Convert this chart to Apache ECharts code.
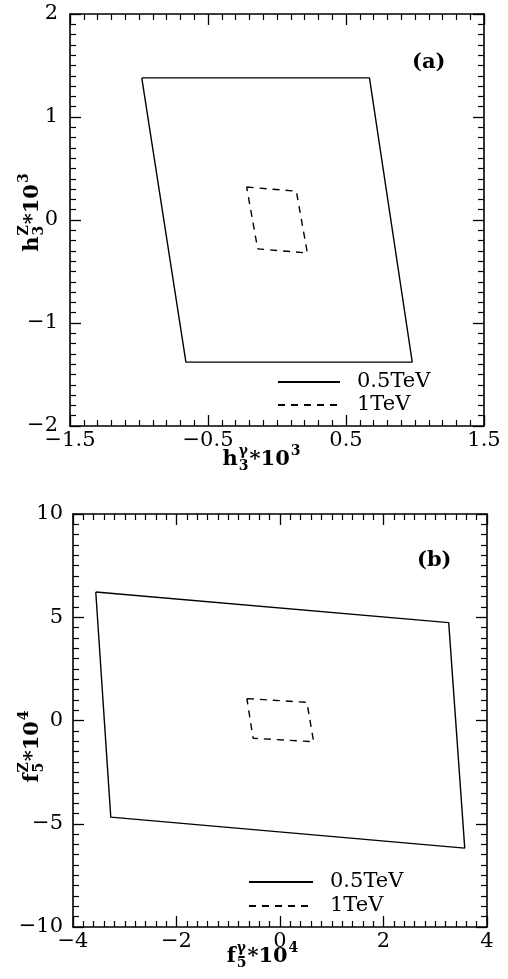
<!DOCTYPE html>
<html lang="en">
<head>
    <meta charset="UTF-8">
    <title>h3 / f5 bounds</title>
    <script src="https://cdn.jsdelivr.net/npm/echarts@6/dist/echarts.min.js"></script>
    <style>
        html, body, #chart {
            width: 100%;
            height: 100%;
            margin: 0;
            padding: 0;
            background: #fff;
        }
    </style>
</head>
<body>
    <div id="chart"></div>
    <script>
        // panel (a): h3 bounds (x = h3^gamma*10^3, y = h3^Z*10^3)
        var h3Solid = [[-0.98, 1.38], [0.67, 1.38], [0.98, -1.38], [-0.66, -1.38], [-0.98, 1.38]];
        var h3Dashed = [[-0.22, 0.32], [0.14, 0.28], [0.22, -0.32], [-0.14, -0.28], [-0.22, 0.32]];
        // panel (b): f5 bounds (x = f5^gamma*10^4, y = f5^Z*10^4)
        var f5Solid = [[-3.56, 6.22], [3.26, 4.74], [3.57, -6.18], [-3.27, -4.68], [-3.56, 6.22]];
        var f5Dashed = [[-0.64, 1.06], [0.52, 0.88], [0.65, -1.03], [-0.52, -0.86], [-0.64, 1.06]];
        var legendNames = ['0.5TeV', '1TeV'];
        var panelLabels = ['(a)', '(b)'];

        var FONT = '"DejaVu Serif", serif';
        var chart = echarts.init(document.getElementById('chart'));

        var mctx = document.createElement('canvas').getContext('2d');
        function textWidth(s, size, weight) {
            mctx.font = (weight || 'normal') + ' ' + size + 'px ' + FONT;
            return mctx.measureText(s).width;
        }

        function txt(s, x, y, size, weight) {
            return {
                type: 'text', x: x, y: y,
                style: {
                    text: s, fill: '#000',
                    font: (weight || 'normal') + ' ' + size + 'px ' + FONT,
                    align: 'left', verticalAlign: 'middle',
                    textAlign: 'left', textVerticalAlign: 'middle'
                }
            };
        }

        // label like h_3^gamma*10^3 : strings are normal size, [sup, sub] pairs are small
        function mathLabel(parts, cx, cy, rot) {
            var big = 21, small = 14, w8 = 'bold', x = 0, kids = [];
            parts.forEach(function(p) {
                if (typeof p === 'string') {
                    kids.push(txt(p, x, 0, big, w8));
                    x += textWidth(p, big, w8);
                } else {
                    var w = 0;
                    if (p[0]) {
                        kids.push(txt(p[0], x + 1, -9, small, w8));
                        w = Math.max(w, textWidth(p[0], small, w8));
                    }
                    if (p[1]) {
                        kids.push(txt(p[1], x + 1, 6, small, w8));
                        w = Math.max(w, textWidth(p[1], small, w8));
                    }
                    x += w + 2;
                }
            });
            kids.forEach(function(k) { k.x -= x / 2; });
            return { type: 'group', x: cx, y: cy, rotation: rot || 0, children: kids };
        }

        function fmt(v) {
            return String(v).replace('-', '\u2212');
        }

        var lineCol = '#000';

        function axis(dim, grid, min, max, interval, pos, labels, margin) {
            return {
                type: 'value',
                gridIndex: grid,
                position: pos,
                min: min,
                max: max,
                interval: interval,
                axisLine: { show: true, onZero: false, lineStyle: { color: lineCol, width: 1.6 } },
                axisTick: { show: true, inside: true, length: 11, lineStyle: { color: lineCol, width: 1.3 } },
                minorTick: { show: true, splitNumber: 10, length: 6, lineStyle: { color: lineCol, width: 1.2 } },
                splitLine: { show: false },
                minorSplitLine: { show: false },
                axisLabel: {
                    show: labels,
                    showMinLabel: true,
                    showMaxLabel: true,
                    margin: margin,
                    color: '#000',
                    fontFamily: FONT,
                    fontSize: 21,
                    formatter: fmt
                }
            };
        }

        function poly(name, data, grid, dashed) {
            return {
                name: name,
                type: 'line',
                xAxisIndex: grid * 2,
                yAxisIndex: grid * 2,
                data: data,
                symbol: 'none',
                animation: false,
                itemStyle: { color: '#000' },
                lineStyle: { color: '#000', width: 1.4, type: dashed ? [7, 6] : 'solid' }
            };
        }

        function legend(left, top, w, pad, gap) {
            return {
                data: legendNames,
                orient: 'vertical',
                left: left,
                top: top,
                itemWidth: w,
                itemHeight: 22,
                itemGap: gap,
                selectedMode: false,
                itemStyle: { opacity: 0 },
                textStyle: { color: '#000', fontFamily: FONT, fontSize: 21, lineHeight: 22, padding: [0, 0, 0, pad] }
            };
        }

        var option = {
            backgroundColor: '#fff',
            animation: false,
            grid: [
                { left: 70, top: 14, width: 414, height: 412 },
                { left: 73, top: 514, width: 414, height: 413 }
            ],
            xAxis: [
                axis('x', 0, -1.5, 1.5, 1, 'bottom', true, 4),
                axis('x', 0, -1.5, 1.5, 1, 'top', false, 4),
                axis('x', 1, -4, 4, 2, 'bottom', true, 4),
                axis('x', 1, -4, 4, 2, 'top', false, 4)
            ],
            yAxis: [
                axis('y', 0, -2, 2, 1, 'left', true, 12),
                axis('y', 0, -2, 2, 1, 'right', false, 12),
                axis('y', 1, -10, 10, 5, 'left', true, 10),
                axis('y', 1, -10, 10, 5, 'right', false, 10)
            ],
            legend: [
                legend(272, 366, 62, 12, 1),
                legend(243, 866, 64, 12, 2)
            ],
            series: [
                poly(legendNames[0], h3Solid, 0, false),
                poly(legendNames[1], h3Dashed, 0, true),
                poly(legendNames[0], f5Solid, 1, false),
                poly(legendNames[1], f5Dashed, 1, true)
            ],
            graphic: [
                txt(panelLabels[0], 412, 63, 21, 'bold'),
                txt(panelLabels[1], 417, 561, 21, 'bold'),
                mathLabel(['h', ['\u03b3', '3'], '*10', ['3', null]], 262, 460, 0),
                mathLabel(['h', ['Z', '3'], '*10', ['3', null]], 33, 212, Math.PI / 2),
                mathLabel(['f', ['\u03b3', '5'], '*10', ['4', null]], 263, 957, 0),
                mathLabel(['f', ['Z', '5'], '*10', ['4', null]], 33, 746, Math.PI / 2)
            ]
        };

        chart.setOption(option);
    </script>
</body>
</html>
